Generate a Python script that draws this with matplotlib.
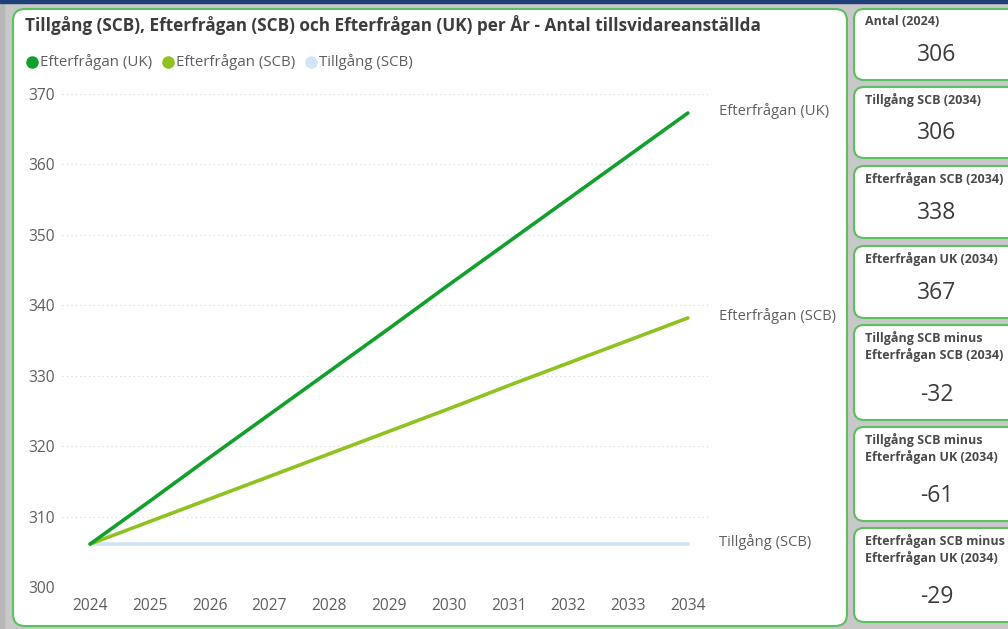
import matplotlib.pyplot as plt
from matplotlib.patches import FancyBboxPatch, Rectangle

# data
years = [2024, 2025, 2026, 2027, 2028, 2029, 2030, 2031, 2032, 2033, 2034]
efterfragan_uk = [306.1, 312.2, 318.4, 324.5, 330.6, 336.7, 342.9, 349.0, 355.1, 361.2, 367.3]
efterfragan_scb = [306.1, 309.3, 312.5, 315.7, 318.9, 322.1, 325.3, 328.6, 331.8, 335.0, 338.2]
tillgang_scb = [306.1, 306.1, 306.1, 306.1, 306.1, 306.1, 306.1, 306.1, 306.1, 306.1, 306.1]
series_names = ["Efterfrågan (UK)", "Efterfrågan (SCB)", "Tillgång (SCB)"]
y_ticks = [300, 310, 320, 330, 340, 350, 360, 370]

card_labels = ["Antal (2024)", "Tillgång SCB (2034)", "Efterfrågan SCB (2034)",
               "Efterfrågan UK (2034)", "Tillgång SCB minus\nEfterfrågan SCB (2034)",
               "Tillgång SCB minus\nEfterfrågan UK (2034)",
               "Efterfrågan SCB minus\nEfterfrågan UK (2034)"]
card_values = [306, 306, 338, 367, -32, -61, -29]

plt.rcParams['font.family'] = ['Open Sans', 'DejaVu Sans']

colors = ["#12a02c", "#8dc21f", "#cfe4f7"]
border = "#5cbf60"
text_col = "#605e5c"

W, H = 1008, 629
fig = plt.figure(figsize=(W / 100, H / 100), dpi=100)
fig.patch.set_facecolor("#c8c8c8")

# background layer in pixel units
bg = fig.add_axes([0, 0, 1, 1])
bg.set_xlim(0, W)
bg.set_ylim(H, 0)
bg.axis("off")
bg.add_patch(Rectangle((0, 0), W, 3, color="#1f3f78", zorder=1))
bg.add_patch(Rectangle((0, 0), 4, H, color="#b8b8b8", zorder=0))
bg.add_patch(FancyBboxPatch((13, 9), 834, 617, boxstyle="round,pad=0,rounding_size=12",
                            facecolor="white", edgecolor=border, linewidth=1.5, zorder=2))

card_boxes = [(9, 80), (87, 158), (166, 238), (246, 318), (325, 420), (427, 521), (528, 622)]
for (top, bot), lab, val in zip(card_boxes, card_labels, card_values):
    bg.add_patch(FancyBboxPatch((854, top), 170, bot - top, boxstyle="round,pad=0,rounding_size=10",
                                facecolor="white", edgecolor=border, linewidth=1.5, zorder=2))
    bg.text(865, top + 6, lab, fontsize=9, fontweight="bold", color="#4a4a4a",
            va="top", ha="left", linespacing=1.3, zorder=3)
    bg.text(937, bot - 25, str(val), fontsize=16.5, color="#3c3c3c",
            va="center", ha="center", zorder=3)

bg.text(25, 25, "Tillgång (SCB), Efterfrågan (SCB) och Efterfrågan (UK) per År - Antal tillsvidareanställda",
        fontsize=12.3, fontweight="bold", color="#3c3c3c", va="center", ha="left", zorder=3)

# legend
lx = 32
for name, c in zip(series_names, colors):
    bg.plot(lx, 62, marker="o", markersize=8, color=c, zorder=3)
    t = bg.text(lx + 8, 62, name, fontsize=10.8, color=text_col, va="center", ha="left", zorder=3)
    fig.canvas.draw()
    bb = t.get_window_extent()
    lx = bb.x1 + 16

# chart
ax = fig.add_axes([62 / W, 1 - 587 / H, (710 - 62) / W, (587 - 94) / H], zorder=5)
ax.patch.set_alpha(0)
ax.plot(years, tillgang_scb, color=colors[2], linewidth=2.6, solid_capstyle="round")
ax.plot(years, efterfragan_scb, color=colors[1], linewidth=2.6, solid_capstyle="round")
ax.plot(years, efterfragan_uk, color=colors[0], linewidth=2.6, solid_capstyle="round")

for name, vals in zip(series_names, [efterfragan_uk, efterfragan_scb, tillgang_scb]):
    ax.annotate(name, (years[-1], vals[-1]), xytext=(31, 2), textcoords="offset pixels",
                fontsize=10.6, color=text_col, va="center", ha="left", annotation_clip=False)

ax.set_xlim(2023.53, 2034.37)
ax.set_ylim(300, 370)
ax.set_xticks(years)
ax.set_yticks(y_ticks)
ax.grid(axis="y", color="#d8d8d8", linestyle=(0, (1, 3)), linewidth=0.8)
ax.set_axisbelow(True)
for s in ax.spines.values():
    s.set_visible(False)
ax.tick_params(length=0, labelsize=11.2, labelcolor=text_col)
ax.tick_params(axis="x", pad=8)
for lbl in ax.get_yticklabels():
    lbl.set_horizontalalignment("left")
ax.tick_params(axis="y", pad=24.5)

fig.savefig("out.png", dpi=100, facecolor=fig.get_facecolor())
